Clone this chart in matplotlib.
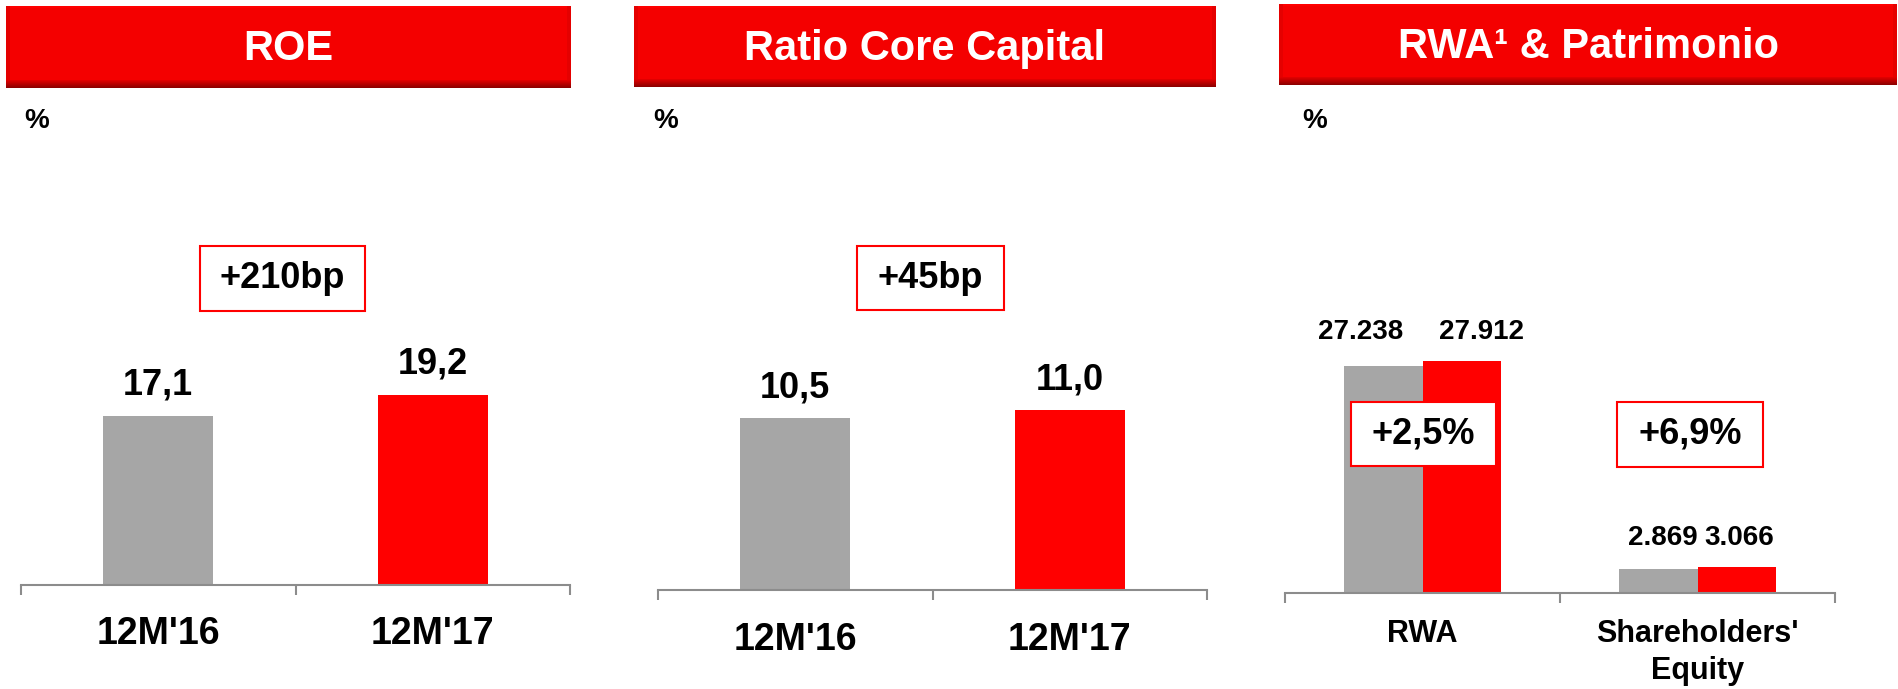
import numpy as np
import matplotlib.pyplot as plt
from matplotlib.patches import Rectangle

W, H = 1898, 689
plt.rcParams['font.family'] = ['Liberation Sans', 'DejaVu Sans']
plt.rcParams['font.weight'] = 'bold'

# data
periods = ["12M'16", "12M'17"]
roe = [17.1, 19.2]
core_capital = [10.5, 11.0]
rwa_groups = ["RWA", "Shareholders'\nEquity"]
values_16 = [27238, 2869]
values_17 = [27912, 3066]
titles = ["ROE", "Ratio Core Capital", "RWA\u00b9 & Patrimonio"]
badge_texts = ["+210bp", "+45bp", "+2,5%", "+6,9%"]

GRAY = '#A6A6A6'
RED = '#FF0000'
AXIS = '#8C8C8C'

fig = plt.figure(figsize=(W / 100, H / 100), dpi=100)


def px_rect(x0, y0, x1, y1):
    return [x0 / W, 1 - y1 / H, (x1 - x0) / W, (y1 - y0) / H]


def header(x0, y0, x1, y1, text):
    ax = fig.add_axes(px_rect(x0, y0, x1, y1))
    h, w = int(y1 - y0), int(x1 - x0)
    img = np.zeros((h, w, 3))
    img[..., 0] = 0.96
    img[:2, :, 0] = 1.0
    img[:, :4, 0] = 0.90
    img[:, -4:, 0] = 0.90
    for i in range(8):
        img[h - 8 + i, :, 0] = 0.92 - 0.045 * (i + 1)
    ax.imshow(img, aspect='auto', interpolation='nearest', extent=(0, 1, 0, 1))
    ax.axis('off')
    ax.text(0.5, 0.47, text, color='white', fontsize=30, ha='center',
            va='center', transform=ax.transAxes)


def base_axes(x0, x1, y_axis, top, ymax, cats, cat_size, pad):
    ax = fig.add_axes(px_rect(x0, top, x1, y_axis))
    ax.set_xlim(-0.5, len(cats) - 0.5)
    ax.set_ylim(0, ymax)
    for s in ['left', 'top', 'right']:
        ax.spines[s].set_visible(False)
    ax.spines['bottom'].set_color(AXIS)
    ax.spines['bottom'].set_linewidth(1.5)
    ax.set_yticks([])
    ax.set_xticks(range(len(cats)))
    ax.set_xticklabels(cats, fontsize=cat_size, fontweight='bold', linespacing=1.3)
    ax.tick_params(axis='x', which='major', length=0, pad=pad)
    ax.set_xticks(np.arange(len(cats) + 1) - 0.5, minor=True)
    ax.tick_params(axis='x', which='minor', length=7, width=1.5,
                   color=AXIS, direction='out')
    return ax


def comma(v):
    return f"{v:.1f}".replace('.', ',')


def dots(v):
    return f"{v:,}".replace(',', '.')


# headers
header(6, 6, 571, 88, titles[0])
header(634, 6, 1216, 87, titles[1])
header(1279, 4, 1897, 85, titles[2])

for xp in [24, 653, 1302]:
    fig.text(xp / W, 1 - 121 / H, '%', fontsize=20, ha='left', va='center')

# ROE
ax1 = base_axes(21, 570, 585, 150, 43.9, periods, 27, 22)
x = np.arange(len(periods))
ax1.bar(x, roe, width=0.40, color=[GRAY, RED])
for xi, v in zip(x, roe):
    ax1.annotate(comma(v), (xi, v), xytext=(0, 22), textcoords='offset points',
                 ha='center', va='center', fontsize=26)

# Core capital
ax2 = base_axes(658, 1207, 590, 150, 26.9, periods, 27, 23)
ax2.bar(x, core_capital, width=0.40, color=[GRAY, RED])
for xi, v in zip(x, core_capital):
    ax2.annotate(comma(v), (xi, v), xytext=(0, 22), textcoords='offset points',
                 ha='center', va='center', fontsize=26)

# RWA & equity
ax3 = base_axes(1285, 1835, 593, 150, 53250, rwa_groups, 22, 19)
bw = 0.285
g = np.arange(len(rwa_groups))
ax3.bar(g - bw / 2, values_16, bw, color=GRAY)
ax3.bar(g + bw / 2, values_17, bw, color=RED)
dx16 = [-16, 3]
dx17 = [14, 2]
for i in range(len(rwa_groups)):
    top = max(values_16[i], values_17[i])
    ax3.annotate(dots(values_16[i]), (g[i] - bw / 2, top), xytext=(dx16[i], 21),
                 textcoords='offset points', ha='center', va='center', fontsize=20)
    ax3.annotate(dots(values_17[i]), (g[i] + bw / 2, top), xytext=(dx17[i], 21),
                 textcoords='offset points', ha='center', va='center', fontsize=20)

# change badges
badge_boxes = [(282, 278, 165, 65), (930, 278, 147, 64),
               (1423, 434, 145, 64), (1690, 434, 146, 65)]
for (cx, cy, bwid, bh), t in zip(badge_boxes, badge_texts):
    fig.add_artist(Rectangle(((cx - bwid / 2) / W, 1 - (cy + bh / 2) / H),
                             bwid / W, bh / H, transform=fig.transFigure,
                             facecolor='white', edgecolor=RED, lw=1.5, zorder=5))
    fig.text(cx / W, 1 - cy / H, t, fontsize=26, ha='center', va='center', zorder=6)

fig.savefig('out.png', dpi=100)
